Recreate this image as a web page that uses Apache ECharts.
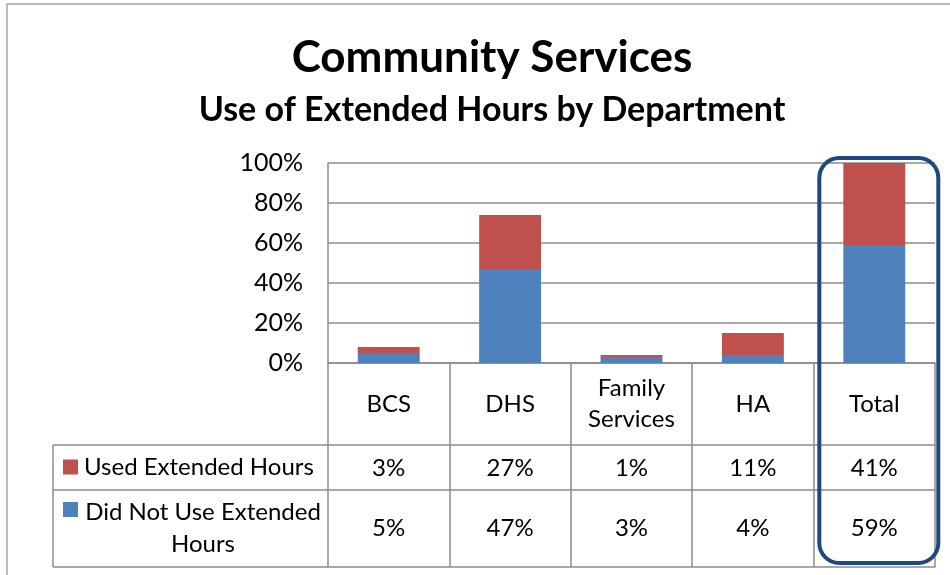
<!DOCTYPE html>
<html><head><meta charset="utf-8">
<script src="https://cdn.jsdelivr.net/npm/echarts@6/dist/echarts.min.js"></script>
<style>html,body{margin:0;padding:0;background:#fff}#c{width:950px;height:575px}</style>
</head><body><div id="c"></div>
<script>
const titleText = 'Community Services';
const subtitleText = 'Use of Extended Hours by Department';
const categories = ['BCS', 'DHS', 'Family Services', 'HA', 'Total'];
const seriesNames = ['Used Extended Hours', 'Did Not Use Extended Hours'];
const usedValues = [3, 27, 1, 11, 41];
const notUsedValues = [5, 47, 3, 4, 59];
const yMin = 0, yMax = 100, yStep = 20;

const FONT = 'Lato';
const RED = '#c0504d', BLUE = '#4f81bd', GRID = '#8c8c8c';
const GRID_LEFT = 328, GRID_RIGHT = 15, GRID_TOP = 163, GRID_BOTTOM = 212;
const TFS = 24;

const chart = echarts.init(document.getElementById('c'), null, {renderer: 'canvas'});

function tableAxis(offset, tickLen, margin, labelFn, showLabel) {
  return {
    type: 'category', data: categories, position: 'bottom', offset: offset,
    axisLine: {show: true, lineStyle: {color: GRID, width: 1.5}},
    axisTick: {show: tickLen > 0, length: tickLen, lineStyle: {color: GRID, width: 1.5}},
    axisLabel: {show: showLabel, margin: margin, verticalAlign: 'middle', formatter: labelFn,
      fontFamily: FONT, fontSize: TFS, color: '#000', lineHeight: 31, interval: 0},
    splitLine: {show: false}
  };
}

const option = {
  animation: false,
  backgroundColor: '#fff',
  title: [
    {text: titleText, left: 487, top: 31, textAlign: 'center',
     textStyle: {fontFamily: FONT, fontWeight: 'bold', fontSize: 44, color: '#000'}},
    {text: subtitleText, left: 487, top: 88, textAlign: 'center',
     textStyle: {fontFamily: FONT, fontWeight: 'bold', fontSize: 34, color: '#000'}}
  ],
  grid: {left: GRID_LEFT, right: GRID_RIGHT, top: GRID_TOP, bottom: GRID_BOTTOM},
  xAxis: [
    tableAxis(0, 82, 41, v => v.replace(' ', '\n'), true),
    tableAxis(82, 45, 23, (v, i) => usedValues[i] + '%', true),
    tableAxis(127, 77, 38, (v, i) => notUsedValues[i] + '%', true),
    tableAxis(204, 0, 0, () => '', false)
  ],
  yAxis: {
    type: 'value', min: yMin, max: yMax, interval: yStep,
    axisLine: {show: true, lineStyle: {color: GRID, width: 1.5}},
    axisTick: {show: false},
    axisLabel: {formatter: '{value}%', margin: 25, fontFamily: FONT, fontSize: 25, color: '#000'},
    splitLine: {show: true, lineStyle: {color: GRID, width: 1.5}}
  },
  series: [
    {name: seriesNames[1], type: 'bar', stack: 's', data: notUsedValues, barWidth: '51%',
     itemStyle: {color: BLUE}},
    {name: seriesNames[0], type: 'bar', stack: 's', data: usedValues, barWidth: '51%',
     itemStyle: {color: RED}}
  ]
};
chart.setOption(option);

// decorations: frame, legend column of the data table, highlight around Total
const axisTopY = chart.convertToPixel({yAxisIndex: 0}, yMax);
const axisBotY = chart.convertToPixel({yAxisIndex: 0}, yMin);
const leftX = GRID_LEFT;
const row1Y = axisBotY + 82, row2Y = axisBotY + 127, row3Y = axisBotY + 204;
const colL = 53;
const totalX = chart.convertToPixel({xAxisIndex: 0}, categories[categories.length - 1]);
const ls = {stroke: GRID, lineWidth: 1.5};

chart.setOption({
  graphic: [
    {type: 'rect', shape: {x: 7, y: 4, width: 960, height: 580}, style: {fill: null, stroke: '#a6a6a6', lineWidth: 1.5}, silent: true},
    {type: 'line', shape: {x1: colL, y1: row1Y, x2: leftX, y2: row1Y}, style: ls},
    {type: 'line', shape: {x1: colL, y1: row2Y, x2: leftX, y2: row2Y}, style: ls},
    {type: 'line', shape: {x1: colL, y1: row3Y, x2: leftX, y2: row3Y}, style: ls},
    {type: 'line', shape: {x1: colL, y1: row1Y, x2: colL, y2: row3Y}, style: ls},
    {type: 'rect', shape: {x: 63, y: (row1Y + row2Y) / 2 - 8, width: 15, height: 15}, style: {fill: RED}},
    {type: 'rect', shape: {x: 63, y: row2Y + 12, width: 15, height: 15}, style: {fill: BLUE}},
    {type: 'text', style: {text: seriesNames[0], x: 84, y: (row1Y + row2Y) / 2, align: 'left', verticalAlign: 'middle',
      font: TFS + 'px ' + FONT, fill: '#000'}},
    {type: 'text', style: {text: 'Did Not Use Extended\nHours', x: 203, y: (row2Y + row3Y) / 2, align: 'center', verticalAlign: 'middle',
      font: TFS + 'px ' + FONT, fill: '#000', lineHeight: 32}},
    {type: 'rect', shape: {x: totalX - 55, y: axisTopY - 5, width: 119, height: row3Y - axisTopY + 1, r: 20},
     style: {fill: null, stroke: '#1f497d', lineWidth: 4}, z: 100}
  ]
});
</script></body></html>
